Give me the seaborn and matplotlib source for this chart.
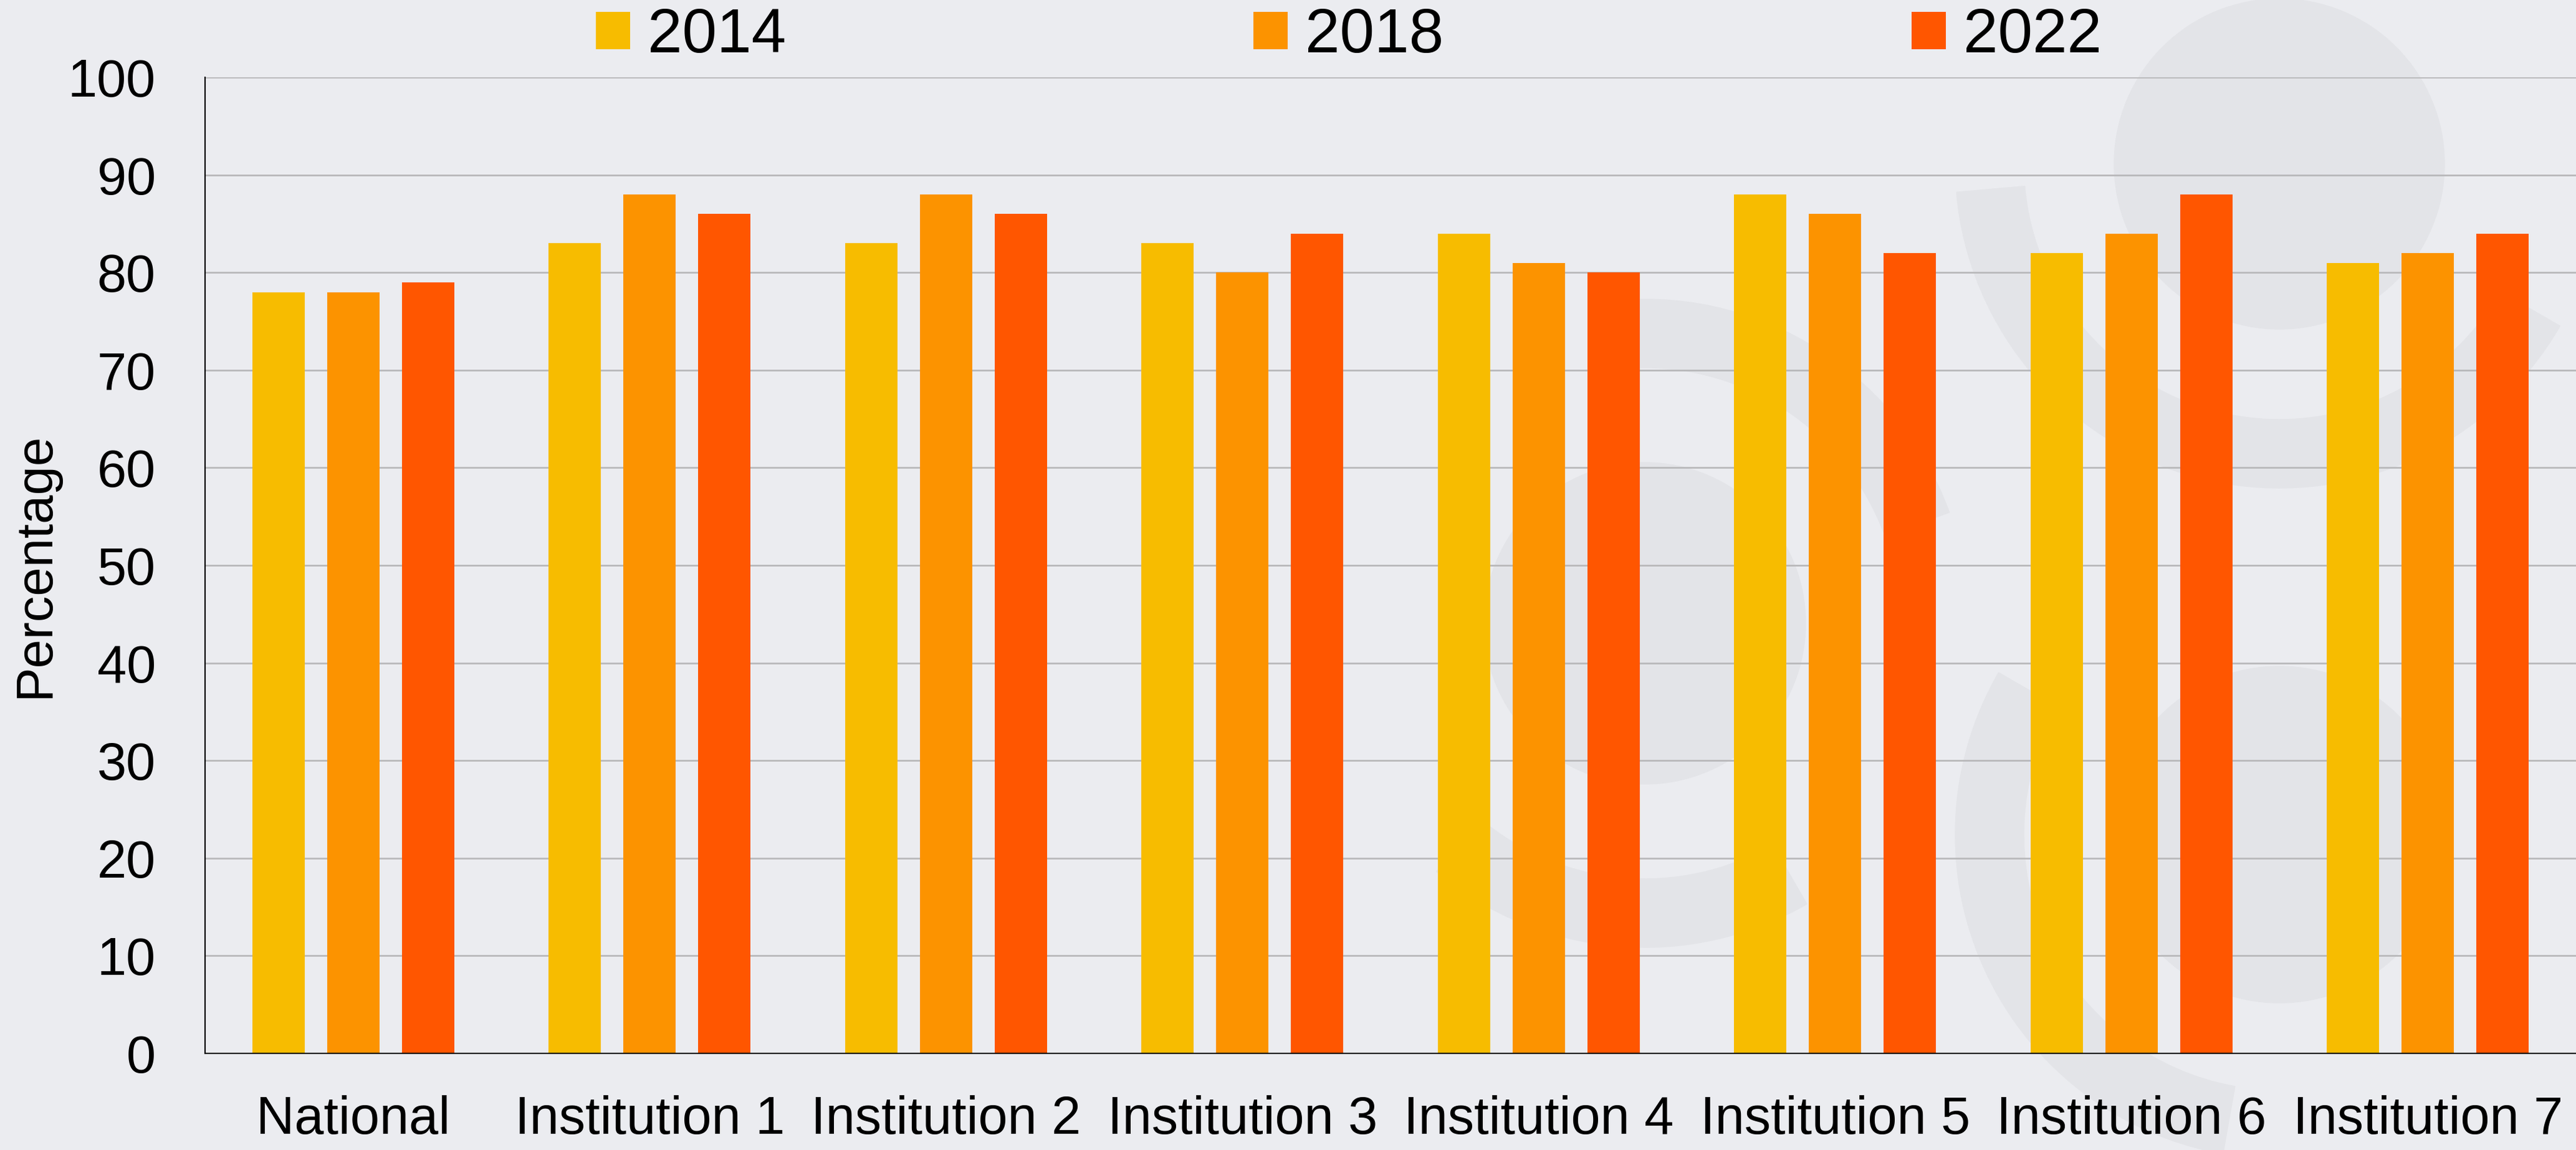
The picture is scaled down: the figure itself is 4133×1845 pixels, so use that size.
"""
Grouped bar chart: percentage by institution for 2014 / 2018 / 2022.
"""

import numpy as np
import pandas as pd
import matplotlib
matplotlib.use("Agg")
import matplotlib.pyplot as plt
from matplotlib.patches import Circle, Wedge
import seaborn as sns

# ──────────────────────────────────────────────
# Data
# ──────────────────────────────────────────────
CATEGORIES = ["National", "Institution 1", "Institution 2", "Institution 3",
              "Institution 4", "Institution 5", "Institution 6", "Institution 7"]
YEARS = ["2014", "2018", "2022"]
VALUES_2014 = [78, 83, 83, 83, 84, 88, 82, 81]
VALUES_2018 = [78, 88, 88, 80, 81, 86, 84, 82]
VALUES_2022 = [79, 86, 86, 84, 80, 82, 88, 84]
Y_TICKS = [0, 10, 20, 30, 40, 50, 60, 70, 80, 90, 100]

COLORS = ["#F7BC00", "#FC9300", "#FF5600"]
BG = "#EBECF0"
WATERMARK = "#E3E4E8"

df = pd.DataFrame({
    "category": CATEGORIES * 3,
    "year": [y for y in YEARS for _ in CATEGORIES],
    "value": VALUES_2014 + VALUES_2018 + VALUES_2022,
})

# ──────────────────────────────────────────────
# Figure
# ──────────────────────────────────────────────
sns.set_theme(style="white")
plt.rcParams["font.family"] = ["Liberation Sans", "DejaVu Sans"]
plt.rcParams["text.color"] = "black"

W, H = 4133, 1845
fig = plt.figure(figsize=(W / 100, H / 100), dpi=100, facecolor=BG)

# faint watermark shapes behind the plot (pixel coords, y from top)
def px(x, y):
    return (x / 100, (H - y) / 100)

for cx, cy, r in [(3657, 263, 265), (2639, 1000, 258), (3657, 1339, 270)]:
    fig.patches.append(Circle(px(cx, cy), r / 100, color=WATERMARK,
                              transform=fig.dpi_scale_trans, zorder=0))
for cx, cy, r, t1, t2 in [(3657, 263, 520, 185, 330), (2639, 1000, 520, 20, 100),
                          (2639, 1000, 520, 230, 300), (3657, 1339, 520, 150, 260)]:
    fig.patches.append(Wedge(px(cx, cy), r / 100, t1, t2, width=1.1,
                             color=WATERMARK, transform=fig.dpi_scale_trans, zorder=0))

left, right, top, bottom = 329, 4133, 124, 1690
ax = fig.add_axes([left / W, (H - bottom) / H, (right - left) / W, (bottom - top) / H])
ax.set_zorder(2)
ax.patch.set_alpha(0)

sns.barplot(data=df, x="category", y="value", hue="year", palette=COLORS,
            width=0.756, gap=0.3, linewidth=0, saturation=1, ax=ax, zorder=3)

ax.set_ylim(0, 100)
ax.set_xlim(-0.5, 7.5)
ax.set_yticks(Y_TICKS)
ax.yaxis.grid(True, color="#B9B9BB", linewidth=2)
ax.set_axisbelow(True)

for side in ["top", "right"]:
    ax.spines[side].set_visible(False)
for side in ["left", "bottom"]:
    ax.spines[side].set_color("black")
    ax.spines[side].set_linewidth(1.5)
    ax.spines[side].set_zorder(4)

ax.tick_params(axis="y", length=0, pad=57, labelsize=61, labelcolor="black")
ax.tick_params(axis="x", length=0, pad=48, labelsize=61, labelcolor="black")
ax.set_xlabel("")
ax.set_ylabel("Percentage", fontsize=60, color="black")
ax.yaxis.set_label_coords(-0.0615, 0.5)

handles, labels = ax.get_legend_handles_labels()
ax.legend_.remove()
leg = fig.legend(handles, labels, loc="center", ncol=3, frameon=False,
                 bbox_to_anchor=(2164 / W, 1 - 58 / H), fontsize=72,
                 handlelength=0.55, handleheight=0.55, handletextpad=0.28,
                 columnspacing=7.5, borderpad=0, borderaxespad=0)
for t in leg.get_texts():
    t.set_color("black")

fig.savefig("out.png", dpi=100, facecolor=BG)
